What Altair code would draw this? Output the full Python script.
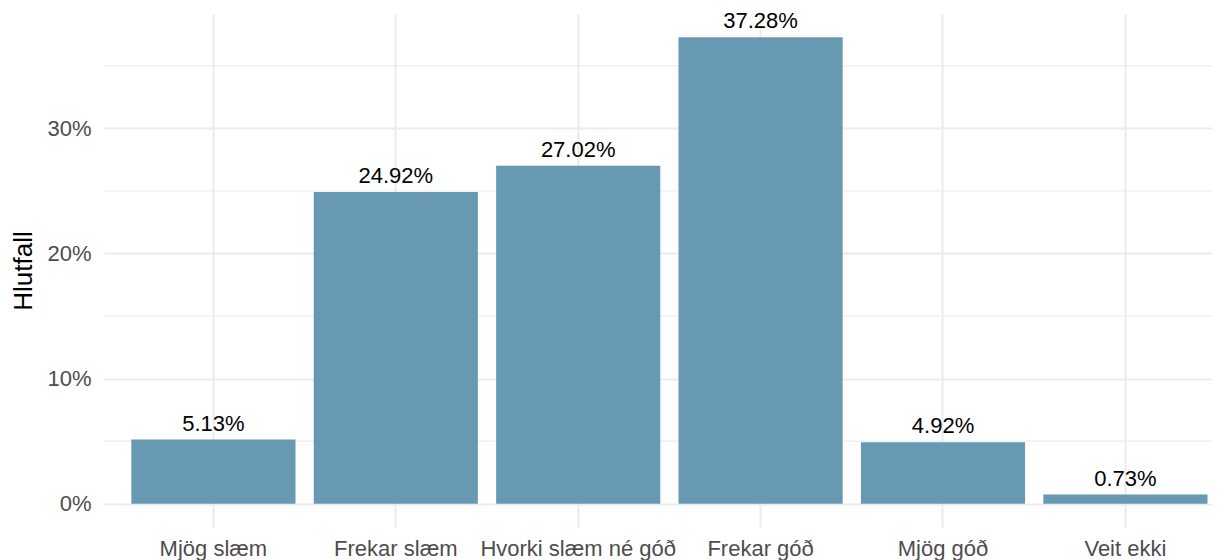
import altair as alt
import pandas as pd

categories = ["Mjög slæm", "Frekar slæm", "Hvorki slæm né góð", "Frekar góð", "Mjög góð", "Veit ekki"]
values = [5.13, 24.92, 27.02, 37.28, 4.92, 0.73]
labels = ["5.13%", "24.92%", "27.02%", "37.28%", "4.92%", "0.73%"]
major_ticks = [0, 10, 20, 30]
minor_ticks = [5, 15, 25, 35]

df = pd.DataFrame({"cat": categories, "val": values, "lab": labels})
minor_df = pd.DataFrame({"m": minor_ticks})

ymax = max(values)
ydom = [-0.05 * ymax, ymax * 1.05]

xscale = alt.Scale(domain=categories, paddingInner=0.1, paddingOuter=0.0873, align=0.858)
yscale = alt.Scale(domain=ydom, nice=False, zero=False)

xenc = alt.X("cat:N", scale=xscale, sort=categories, title=None,
             axis=alt.Axis(labelAngle=0, grid=True, bandPosition=0.5, domain=False, ticks=False,
                           labelPadding=11, labelFontSize=22, labelColor="#4D4D4D", labelLimit=400,
                           labelFont="Liberation Sans", gridColor="#EBEBEB", gridWidth=2))
yenc = alt.Y("val:Q", scale=yscale, title="Hlutfall",
             axis=alt.Axis(values=major_ticks, labelExpr="datum.value + '%'", domain=False, ticks=False,
                           labelPadding=13, labelFontSize=22, labelColor="#4D4D4D",
                           labelFont="Liberation Sans", gridColor="#EBEBEB", gridWidth=2,
                           titleFontSize=26, titleFont="Liberation Sans", titleFontWeight="normal",
                           titleColor="#000000", titlePadding=10))

minor = alt.Chart(minor_df).mark_rule(color="#EBEBEB", strokeWidth=1.1).encode(
    y=alt.Y("m:Q", scale=yscale)
)

bars = alt.Chart(df).mark_bar(color="#6899B3").encode(
    x=xenc, y=yenc, y2=alt.datum(0)
)

text = alt.Chart(df).mark_text(baseline="alphabetic", dy=-9, fontSize=22, font="Liberation Sans",
                               color="#000000").encode(
    x=alt.X("cat:N", scale=xscale, sort=categories),
    y=alt.Y("val:Q", scale=yscale),
    text="lab:N"
)

chart = alt.layer(minor, bars, text).properties(
    width=1108, height=513,
    autosize=alt.AutoSizeParams(type="none"),
    padding={"left": 96, "top": 6, "right": 0, "bottom": 42},
    view=alt.ViewBackground(stroke="transparent", strokeWidth=0)
).configure_view(strokeWidth=0, stroke="transparent").configure_axis(
    domain=False, ticks=False
).configure(background="white")

chart.save("out.html", embed_options={"renderer": "svg", "actions": False})
